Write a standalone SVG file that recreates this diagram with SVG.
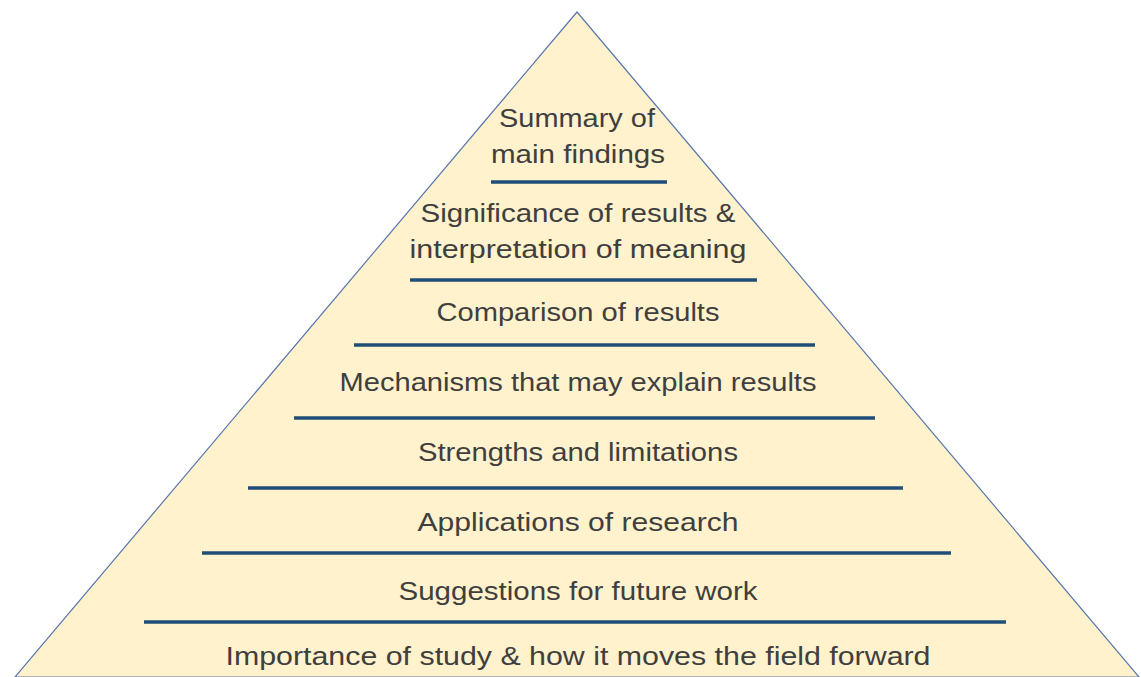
<svg xmlns="http://www.w3.org/2000/svg" width="1141" height="677" viewBox="0 0 1141 677">
  <style>
    .tier { font-family: "Liberation Sans", "DejaVu Sans", sans-serif; font-size: 25px; fill: #3F3F3F; text-anchor: middle; }
    .rule { stroke: #1F4E79; stroke-width: 3.5; }
  </style>
  <rect width="1141" height="677" fill="#FFFFFF"/>
  <!-- pyramid body -->
  <g id="pyramid">
    <polygon points="577,12 15,677 1139,677" fill="#FFF2CC" stroke="#5877AE" stroke-width="1.2"/>
  </g>
  <!-- separator rules between tiers -->
  <g id="connectors">
    <line class="rule" x1="491" y1="182" x2="667" y2="182"/>
    <line class="rule" x1="410" y1="280" x2="757" y2="280"/>
    <line class="rule" x1="354" y1="345" x2="815" y2="345"/>
    <line class="rule" x1="294" y1="418" x2="875" y2="418"/>
    <line class="rule" x1="248" y1="488" x2="903" y2="488"/>
    <line class="rule" x1="202" y1="553" x2="951" y2="553"/>
    <line class="rule" x1="144" y1="622" x2="1006" y2="622"/>
  </g>
  <g id="tier1">
    <text class="tier" x="577" y="127" textLength="156" lengthAdjust="spacingAndGlyphs">Summary of</text>
    <text class="tier" x="578" y="163" textLength="174" lengthAdjust="spacingAndGlyphs">main findings</text>
  </g>
  <g id="tier2">
    <text class="tier" x="578" y="222" textLength="315" lengthAdjust="spacingAndGlyphs">Significance of results &amp;</text>
    <text class="tier" x="578" y="258" textLength="337" lengthAdjust="spacingAndGlyphs">interpretation of meaning</text>
  </g>
  <g id="tier3">
    <text class="tier" x="578" y="321" textLength="283" lengthAdjust="spacingAndGlyphs">Comparison of results</text>
  </g>
  <g id="tier4">
    <text class="tier" x="578" y="391" textLength="477" lengthAdjust="spacingAndGlyphs">Mechanisms that may explain results</text>
  </g>
  <g id="tier5">
    <text class="tier" x="578" y="461" textLength="320" lengthAdjust="spacingAndGlyphs">Strengths and limitations</text>
  </g>
  <g id="tier6">
    <text class="tier" x="578" y="531" textLength="321" lengthAdjust="spacingAndGlyphs">Applications of research</text>
  </g>
  <g id="tier7">
    <text class="tier" x="578" y="600" textLength="359" lengthAdjust="spacingAndGlyphs">Suggestions for future work</text>
  </g>
  <g id="tier8">
    <text class="tier" x="578" y="665" textLength="705" lengthAdjust="spacingAndGlyphs">Importance of study &amp; how it moves the field forward</text>
  </g>
</svg>
